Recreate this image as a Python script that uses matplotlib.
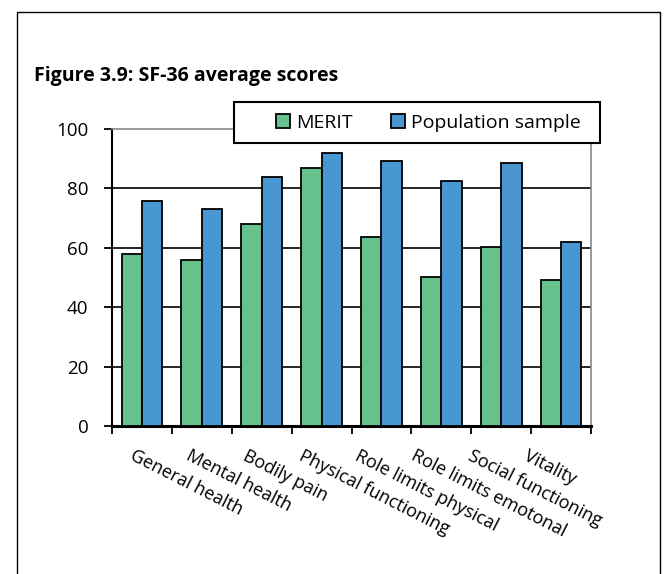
import matplotlib.pyplot as plt
from matplotlib.patches import Rectangle
import numpy as np

plt.rcParams['font.family'] = ['Open Sans', 'DejaVu Sans']

CATEGORIES = ['General health', 'Mental health', 'Bodily pain', 'Physical functioning',
              'Role limits physical', 'Role limits emotonal', 'Social functioning', 'Vitality']
MERIT = [58, 56, 68, 87, 63.5, 50.3, 60.3, 49]
POPULATION = [75.8, 73, 83.8, 91.9, 89.2, 82.5, 88.7, 62.1]
Y_TICKS = [0, 20, 40, 60, 80, 100]

GREEN = '#66c18c'
BLUE = '#4896d2'

W, H = 668, 574
fig = plt.figure(figsize=(W / 100, H / 100), dpi=100)

# outer frame (open at the bottom, runs off the picture)
fig.patches.append(Rectangle((17 / W, -0.05), (660 - 17) / W, 1.05 - 12 / H,
                             transform=fig.transFigure, fill=False,
                             edgecolor='black', linewidth=1.0))
fig.text(34 / W, 1 - 76 / H, 'Figure 3.9: SF-36 average scores',
         fontsize=14, fontweight='bold', va='center', ha='left')

ax = fig.add_axes([112 / W, 1 - 426 / H, (591 - 112) / W, (426 - 129) / H])
x = np.arange(len(CATEGORIES))
bw = 0.34
ax.bar(x - bw / 2, MERIT, bw, color=GREEN, edgecolor='black', linewidth=1.3,
       label='MERIT', zorder=3)
ax.bar(x + bw / 2, POPULATION, bw, color=BLUE, edgecolor='black', linewidth=1.3,
       label='Population sample', zorder=3)

ax.set_xlim(-0.5, len(CATEGORIES) - 0.5)
ax.set_ylim(0, 100)
ax.set_yticks(Y_TICKS)
ax.tick_params(axis='y', direction='out', length=6, width=1.3, labelsize=13.5, pad=11)
for v in Y_TICKS[1:-1]:
    ax.axhline(v, color='black', linewidth=1.2, zorder=1)

ax.set_xticks(np.arange(len(CATEGORIES) + 1) - 0.5)
ax.set_xticklabels([])
ax.tick_params(axis='x', direction='out', length=6, width=1.3)
for i, name in enumerate(CATEGORIES):
    ax.text(-0.117 + 0.9416 * i, -0.07, name, transform=ax.get_xaxis_transform(),
            rotation=-27, rotation_mode='anchor', ha='left', va='top', fontsize=13)

ax.spines['left'].set_linewidth(1.5)
ax.spines['bottom'].set_linewidth(2.2)
ax.spines['top'].set_color('#888888')
ax.spines['right'].set_color('#888888')
ax.spines['top'].set_linewidth(1.2)
ax.spines['right'].set_linewidth(1.2)

# legend box drawn separately (Excel-style wide left padding)
fig.patches.append(Rectangle((234 / W, 1 - 143 / H), (600 - 234) / W, 41 / H,
                             transform=fig.transFigure, facecolor='white',
                             edgecolor='black', linewidth=1.5, zorder=9))
leg = fig.legend(loc='center', bbox_to_anchor=(428.5 / W, 1 - 122.5 / H), ncol=2,
                 fontsize=14, frameon=False,
                 handlelength=0.7, handleheight=0.7, handletextpad=0.3,
                 columnspacing=2.0, borderpad=0.0)
leg.set_zorder(10)

fig.savefig('out.png', dpi=100)
